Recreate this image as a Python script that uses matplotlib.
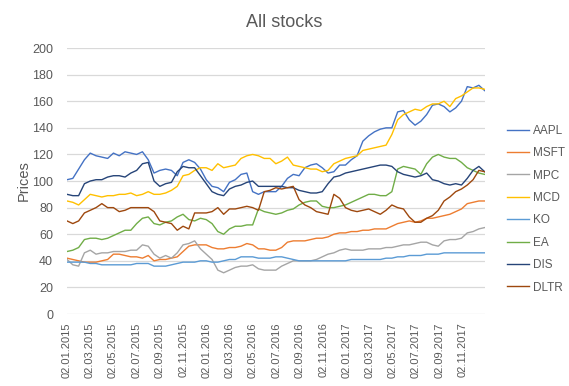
import numpy as np
import pandas as pd
import matplotlib
matplotlib.use('Agg')
import matplotlib.pyplot as plt
import matplotlib.dates as mdates

plt.rcParams['font.family'] = ['Liberation Sans', 'DejaVu Sans']

# semi-monthly readings from 02.01.2015 to 29.12.2017
dates = pd.date_range('2015-01-02', '2017-12-29', periods=73)

aapl = [101, 102, 109, 116, 121, 119, 118, 117, 121, 119, 122, 121, 120, 122, 116, 106, 108, 109,
        108, 104, 114, 116, 114, 109, 101, 96, 95, 92, 99, 101, 105, 106, 92, 90, 92, 92,
        92, 96, 102, 105, 104, 110, 112, 113, 110, 106, 107, 112, 112, 116, 119, 130, 134, 137,
        139, 140, 140, 152, 153, 146, 142, 145, 150, 157, 158, 156, 152, 155, 160, 171, 170, 172, 168]
msft = [42, 41, 40, 39, 39, 39, 40, 41, 45, 45, 44, 43, 43, 42, 44, 40, 41, 41,
        42, 43, 47, 51, 52, 52, 52, 50, 49, 49, 50, 50, 51, 53, 52, 49, 49, 48,
        48, 50, 54, 55, 55, 55, 56, 57, 57, 58, 60, 61, 61, 62, 62, 63, 63, 64,
        64, 64, 66, 68, 69, 70, 69, 70, 72, 72, 73, 74, 75, 77, 79, 83, 84, 85, 85]
mpc = [41, 37, 36, 46, 48, 45, 46, 46, 47, 47, 47, 48, 48, 52, 51, 45, 42, 44,
       42, 46, 52, 53, 55, 49, 45, 41, 33, 31, 33, 35, 36, 36, 37, 34, 33, 33,
       33, 36, 38, 40, 40, 40, 40, 41, 43, 45, 46, 48, 49, 48, 48, 48, 49, 49,
       49, 50, 50, 51, 52, 52, 53, 54, 54, 52, 51, 55, 56, 56, 57, 61, 62, 64, 65]
mcd = [85, 84, 82, 86, 90, 89, 88, 89, 89, 90, 90, 91, 89, 90, 92, 90, 90, 91,
       93, 96, 104, 105, 108, 110, 110, 108, 113, 110, 111, 112, 117, 119, 120, 119, 117, 117,
       113, 115, 118, 112, 111, 110, 109, 109, 107, 108, 113, 115, 117, 118, 119, 123, 124, 125,
       126, 127, 135, 146, 150, 152, 154, 153, 156, 158, 158, 160, 156, 162, 164, 167, 170, 170, 169]
ko = [39, 39, 39, 39, 38, 38, 37, 37, 37, 37, 37, 37, 38, 38, 38, 36, 36, 36,
      37, 38, 39, 39, 39, 40, 40, 39, 39, 40, 41, 41, 43, 43, 43, 42, 42, 42,
      43, 43, 42, 41, 40, 40, 40, 40, 40, 40, 40, 40, 40, 41, 41, 41, 41, 41,
      41, 42, 42, 43, 43, 44, 44, 44, 45, 45, 45, 46, 46, 46, 46, 46, 46, 46, 46]
ea = [47, 48, 50, 56, 57, 57, 56, 57, 59, 61, 63, 63, 68, 72, 73, 68, 67, 69,
      70, 73, 75, 71, 70, 72, 71, 68, 62, 60, 64, 66, 66, 67, 67, 79, 77, 76,
      75, 76, 78, 79, 82, 84, 85, 85, 81, 80, 80, 81, 82, 84, 86, 88, 90, 90,
      89, 89, 92, 109, 111, 110, 109, 105, 113, 118, 120, 118, 117, 117, 114, 110, 108, 106, 105]
dis = [90, 89, 89, 98, 100, 101, 101, 103, 104, 104, 103, 106, 108, 113, 114, 100, 96, 98,
       99, 107, 111, 110, 110, 104, 98, 92, 90, 89, 94, 96, 97, 99, 100, 96, 96, 96,
       96, 96, 95, 95, 93, 92, 91, 91, 92, 98, 103, 104, 106, 107, 108, 109, 110, 111,
       112, 112, 111, 107, 105, 104, 103, 104, 106, 101, 100, 98, 97, 98, 97, 102, 108, 111, 107]
dltr = [70, 68, 70, 76, 78, 80, 83, 80, 80, 77, 78, 80, 80, 80, 80, 77, 70, 69,
        68, 63, 66, 64, 76, 76, 76, 77, 80, 75, 79, 79, 80, 81, 80, 78, 92, 93,
        95, 94, 95, 96, 86, 82, 80, 77, 76, 75, 90, 87, 80, 78, 77, 78, 79, 77,
        75, 78, 82, 80, 79, 73, 69, 69, 72, 74, 78, 85, 88, 92, 94, 97, 101, 108, 107]

names = ['AAPL', 'MSFT', 'MPC', 'MCD', 'KO', 'EA', 'DIS', 'DLTR']
series = [aapl, msft, mpc, mcd, ko, ea, dis, dltr]
colors = ['#4472C4', '#ED7D31', '#A5A5A5', '#FFC000', '#5B9BD5', '#70AD47', '#264478', '#9E480E']

fig = plt.figure(figsize=(5.69, 3.86), dpi=100)
ax = fig.add_axes([0.1178, 0.1865, 0.734, 0.689])

for name, vals, c in zip(names, series, colors):
    ax.plot(dates, vals, color=c, lw=1.0, label=name)

ax.set_ylim(0, 200)
ax.set_yticks(np.arange(0, 201, 20))
ax.set_xlim(pd.Timestamp('2015-01-02'), pd.Timestamp('2017-12-29'))
ax.xaxis.set_major_locator(mdates.MonthLocator(bymonth=[1, 3, 5, 7, 9, 11], bymonthday=2))
ax.xaxis.set_major_formatter(mdates.DateFormatter('%d.%m.%Y'))
for lab in ax.get_xticklabels():
    lab.set_rotation(90)

ax.grid(axis='y', color='#D9D9D9', lw=0.9)
ax.set_axisbelow(True)
for s in ax.spines.values():
    s.set_visible(False)
ax.tick_params(length=0, colors='#595959', labelsize=9)
ax.tick_params(axis='x', labelsize=8, pad=6)
ax.tick_params(axis='y', pad=10)
ax.set_ylabel('Prices', color='#595959', fontsize=10.5, labelpad=1)
fig.suptitle('All stocks', x=0.5, y=0.965, color='#595959', fontsize=13)

fig.legend(loc='center left', bbox_to_anchor=(0.891, 0.458), frameon=False,
           fontsize=8.5, labelcolor='#595959', handlelength=1.9, handletextpad=0.3,
           labelspacing=0.88, borderaxespad=0, borderpad=0)

fig.savefig('out.png', dpi=100)
